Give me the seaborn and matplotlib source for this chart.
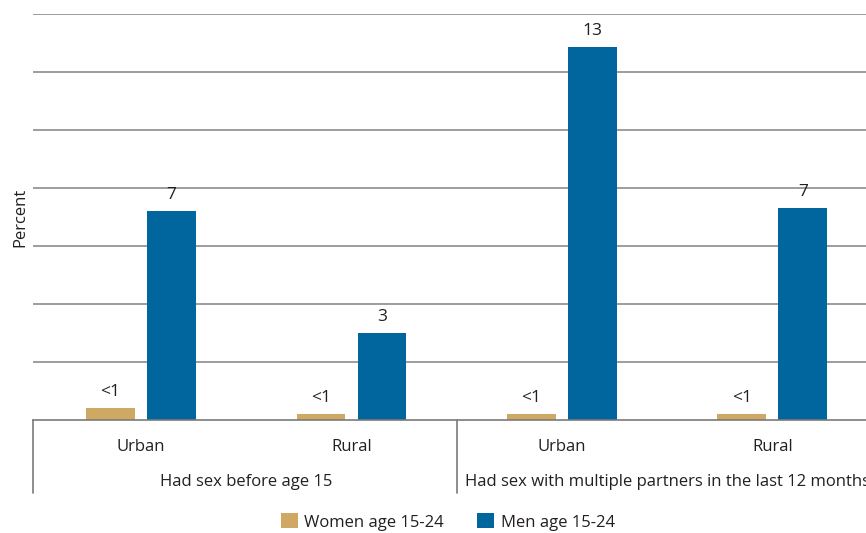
import pandas as pd
import seaborn as sns
import matplotlib.pyplot as plt
import matplotlib.transforms as mtransforms

# values
places = ["Urban", "Rural", "Urban", "Rural"]
groups = ["Had sex before age 15", "Had sex with multiple partners in the last 12 months"]
women = [0.4, 0.2, 0.2, 0.2]
men = [7.2, 3.0, 12.85, 7.3]
women_labels = ["<1", "<1", "<1", "<1"]
men_labels = ["7", "3", "13", "7"]
series = ["Women age 15-24", "Men age 15-24"]

WOMEN_COLOR = "#CFA963"
MEN_COLOR = "#02669E"
TEXT = "#231F20"

sns.set_theme(style="white")
plt.rcParams["font.family"] = ["Open Sans", "DejaVu Sans"]

slots = ["u1", "r1", "u2", "r2"]
df = pd.DataFrame({
    "slot": slots * 2,
    "value": women + men,
    "sex": [series[0]] * 4 + [series[1]] * 4,
})

fig = plt.figure(figsize=(8.66, 5.33), dpi=100)
ax = fig.add_axes([33 / 866, (533 - 420) / 533, (877 - 33) / 866, (420 - 14) / 533])

sns.barplot(data=df, x="slot", y="value", hue="sex", order=slots,
            palette=[WOMEN_COLOR, MEN_COLOR], width=0.58, gap=0.2,
            saturation=1, errorbar=None, linewidth=0, ax=ax)

ax.set_xlim(-0.513, 3.497)
ax.set_ylim(0, 14)
ax.set_yticks(range(2, 15, 2))
ax.set_yticklabels([])
ax.yaxis.grid(True, color="#8C8C8C", linewidth=1.2)
ax.set_axisbelow(True)
ax.tick_params(axis="both", length=0)
for side in ["top", "right", "left"]:
    ax.spines[side].set_visible(False)
ax.spines["bottom"].set_color("#7A7A7A")
ax.spines["bottom"].set_linewidth(1.2)

ax.set_xticks(range(4))
ax.set_xticklabels(places, fontsize=12, color=TEXT)
ax.tick_params(axis="x", pad=14)
ax.set_xlabel("")
ax.set_ylabel("Percent", fontsize=12, color=TEXT, labelpad=0)

ax.bar_label(ax.containers[0], labels=women_labels, padding=6, fontsize=12.5, color=TEXT)
ax.bar_label(ax.containers[1], labels=men_labels, padding=6, fontsize=12.5, color=TEXT)

# group labels and separators below the axis
trans = mtransforms.blended_transform_factory(ax.transData, ax.transAxes)
ax.text(0.5, -0.152, groups[0], transform=trans, ha="center", va="center",
        fontsize=12, color=TEXT)
ax.text(2.5, -0.152, groups[1], transform=trans, ha="center", va="center",
        fontsize=12, color=TEXT)
for x in [-0.513, 1.5, 3.497]:
    ax.plot([x, x], [0, -0.18], transform=trans, color="#7A7A7A",
            linewidth=1.2, clip_on=False)

ax.legend(loc="center", bbox_to_anchor=(448 / 866, 11 / 533),
          bbox_transform=fig.transFigure, ncol=2, frameon=False,
          fontsize=12, handlelength=1.0, handleheight=1.0,
          handletextpad=0.4, columnspacing=2.0, labelcolor=TEXT)

fig.savefig("out.png", dpi=100)
